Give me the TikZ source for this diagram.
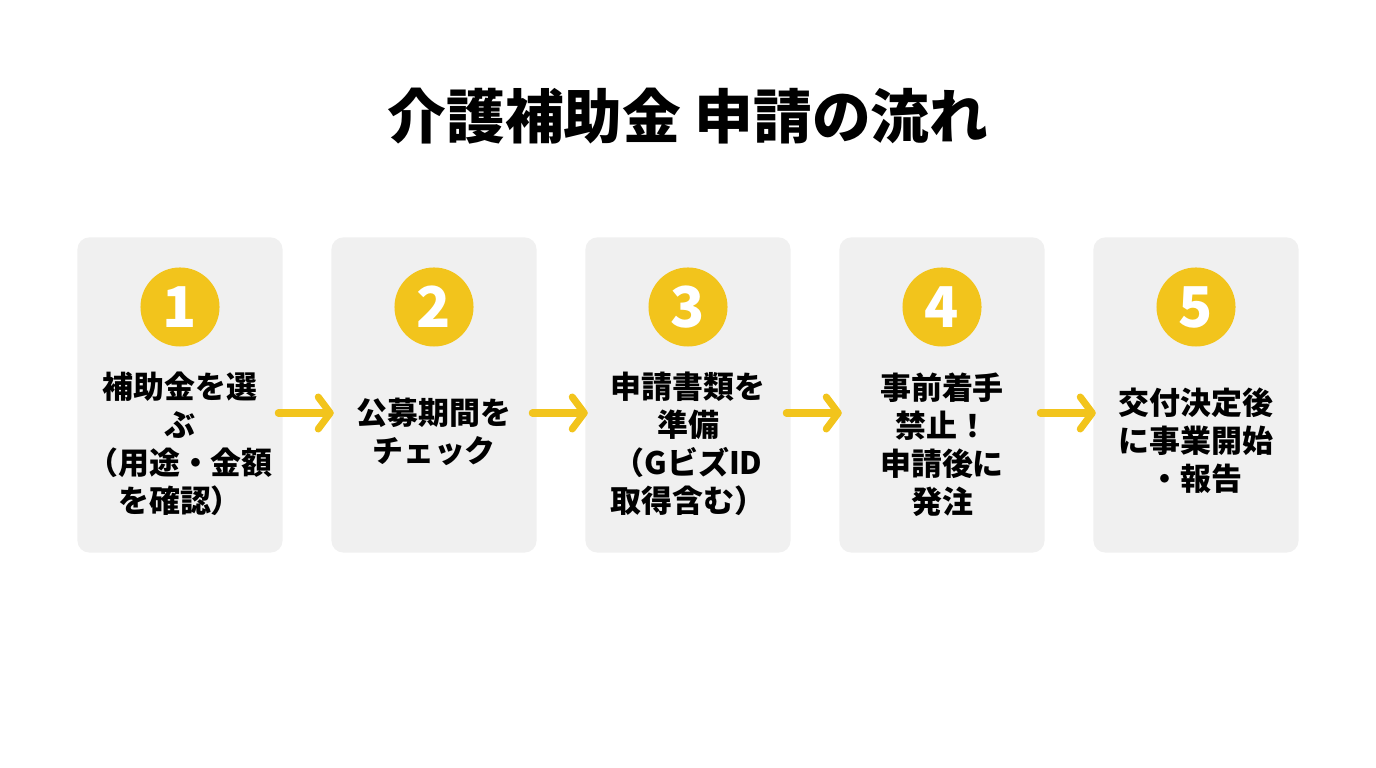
\documentclass[tikz,border=0pt]{standalone}
\usepackage{fontspec}
\setmainfont{Noto Sans CJK JP}
\usetikzlibrary{arrows.meta}
\definecolor{cardgray}{HTML}{F0F0F0}
\definecolor{stepyellow}{HTML}{F2C41C}
\tikzset{
  card/.style={fill=cardgray,rounded corners=0.12cm,minimum width=2.05cm,minimum height=3.15cm,inner sep=0pt},
  badge/.style={circle,fill=stepyellow,minimum size=0.79cm,inner sep=0pt,text=white,font=\bfseries\fontsize{16}{16}\selectfont},
  steptext/.style={align=center,text=black,font=\bfseries\fontsize{8.8}{10.8}\selectfont},
  flowarrow/.style={draw=stepyellow,line width=0.07cm,line cap=round,-{Straight Barb[length=0.12cm,width=0.32cm,round]}}
}
\begin{document}
\begin{tikzpicture}[x=0.01cm,y=-0.01cm]
  \useasboundingbox[fill=white] (0,0) rectangle (1376,768);
  \node[font=\bfseries\fontsize{16.7}{16.7}\selectfont] (title) at (688,116) {介護補助金 申請の流れ};
  % cards
  \node[card] (step1) at (180,395) {};
  \node[card] (step2) at (434,395) {};
  \node[card] (step3) at (688,395) {};
  \node[card] (step4) at (942,395) {};
  \node[card] (step5) at (1196,395) {};
  % numbers
  \node[badge] (num1) at (180,307) {1};
  \node[badge] (num2) at (434,307) {2};
  \node[badge] (num3) at (688,307) {3};
  \node[badge] (num4) at (942,307) {4};
  \node[badge] (num5) at (1196,307) {5};
  % texts
  \node[steptext] (lab1) at (180,444) {補助金を選\\ぶ\\（用途・金額\\を確認）};
  \node[steptext] (lab2) at (434,432) {公募期間を\\チェック};
  \node[steptext] (lab3) at (688,444) {申請書類を\\準備\\（GビズID\\取得含む）};
  \node[steptext] (lab4) at (942,445) {事前着手\\禁止！\\申請後に\\発注};
  \node[steptext] (lab5) at (1196,441) {交付決定後\\に事業開始\\・報告};
  % arrows
  \draw[flowarrow] ([xshift=-0.05cm,yshift=-0.18cm]step1.east) -- ([xshift=0.03cm,yshift=-0.18cm]step2.west);
  \draw[flowarrow] ([xshift=-0.05cm,yshift=-0.18cm]step2.east) -- ([xshift=0.03cm,yshift=-0.18cm]step3.west);
  \draw[flowarrow] ([xshift=-0.05cm,yshift=-0.18cm]step3.east) -- ([xshift=0.03cm,yshift=-0.18cm]step4.west);
  \draw[flowarrow] ([xshift=-0.05cm,yshift=-0.18cm]step4.east) -- ([xshift=0.03cm,yshift=-0.18cm]step5.west);
\end{tikzpicture}
\end{document}
